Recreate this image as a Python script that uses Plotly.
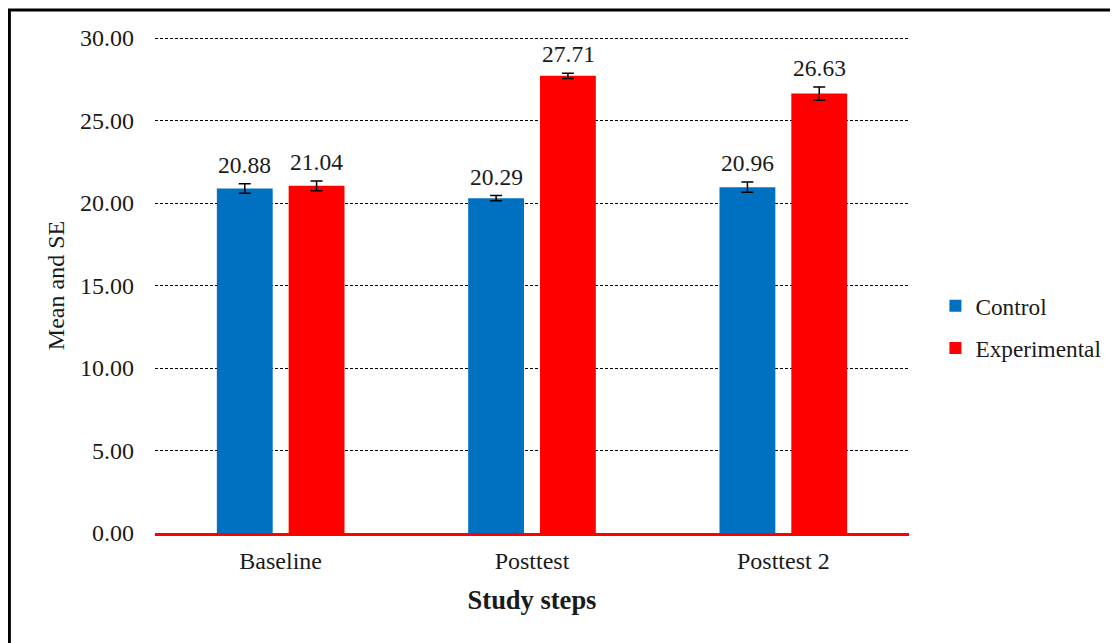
import plotly.graph_objects as go

categories = ["Baseline", "Posttest", "Posttest 2"]
control_mean = [20.88, 20.29, 20.96]
control_se = [0.29, 0.16, 0.31]
exp_mean = [21.04, 27.71, 26.63]
exp_se = [0.30, 0.16, 0.40]
y_ticks = [0, 5, 10, 15, 20, 25, 30]

FONT = "Liberation Serif, Times New Roman, serif"
CAT_PX = 252  # pixel width of one category
W = 56 / CAT_PX
OFF_C = -64 / CAT_PX
OFF_E = 8 / CAT_PX

fig = go.Figure()
fig.add_trace(go.Bar(
    x=categories, y=control_mean, name="Control", legendgroup="c",
    marker=dict(color="#0070C0", line=dict(width=0)),
    width=W, offset=OFF_C,
    error_y=dict(type="data", array=control_se, color="black", thickness=1.5, width=6),
))
fig.add_trace(go.Bar(
    x=categories, y=exp_mean, name="Experimental", legendgroup="e",
    marker=dict(color="#FF0000", line=dict(width=0)),
    width=W, offset=OFF_E,
    error_y=dict(type="data", array=exp_se, color="black", thickness=1.5, width=6),
))

annotations = []
for i, c in enumerate(categories):
    for m, s, off in ((control_mean[i], control_se[i], OFF_C), (exp_mean[i], exp_se[i], OFF_E)):
        annotations.append(dict(
            x=c, y=m + s, xref="x", yref="y", text=f"{m:.2f}", showarrow=False,
            xshift=(off + W / 2) * CAT_PX, yanchor="bottom", yshift=4,
            font=dict(family=FONT, size=23.5, color="#1a1a1a"),
        ))

# figure-pixel coordinates (page has an 8px body margin)
L, R, T, B = 147, 903, 30, 525
FW, FH = 1110, 635
PW, PH = R - L, B - T

def px_x(p):
    return (p - L) / PW

def px_y(p):
    return (B - p) / PH

shapes = [dict(
    type="rect", xref="paper", yref="paper",
    x0=px_x(1), x1=px_x(1130), y0=px_y(660), y1=px_y(2),
    line=dict(color="black", width=3), fillcolor="rgba(0,0,0,0)", layer="below",
)]
# top gridline (plotly hides gridlines on the plot edge)
shapes.append(dict(
    type="line", xref="paper", yref="y", ysizemode="pixel", yanchor=y_ticks[-1],
    x0=0, x1=1, y0=-0.5, y1=-0.5,
    line=dict(color="black", width=1, dash="3px,2px"), layer="below",
))

fig.update_layout(
    width=FW, height=FH,
    margin=dict(l=L, r=FW - R, t=T, b=FH - B, pad=0),
    paper_bgcolor="white", plot_bgcolor="white",
    barmode="overlay",
    font=dict(family=FONT, size=22, color="#1a1a1a"),
    annotations=annotations,
    showlegend=True,
    legend=dict(
        x=px_x(929.5), y=px_y(276), xanchor="left", yanchor="top",
        font=dict(family=FONT, size=23.3, color="#1a1a1a"),
        traceorder="grouped", tracegroupgap=9,
        itemwidth=30, bgcolor="rgba(0,0,0,0)",
    ),
    xaxis=dict(
        showline=True, linecolor="#FF0000", linewidth=3,
        ticks="", showgrid=False, tickfont=dict(size=24),
        ticklabelstandoff=4,
        title=dict(text="<b>Study steps</b>", font=dict(size=26.5), standoff=18),
    ),
    yaxis=dict(
        range=[0, 30], tickvals=y_ticks,
        ticktext=[f"{v:.2f}" for v in y_ticks],
        showgrid=True, gridcolor="black", gridwidth=1, griddash="3px,2px",
        zeroline=False, showline=False, ticks="", ticklabelstandoff=20,
        tickfont=dict(size=24),
        title=dict(text="Mean and SE", font=dict(size=24), standoff=8),
    ),
    shapes=shapes,
)

fig.write_html("out.html")
